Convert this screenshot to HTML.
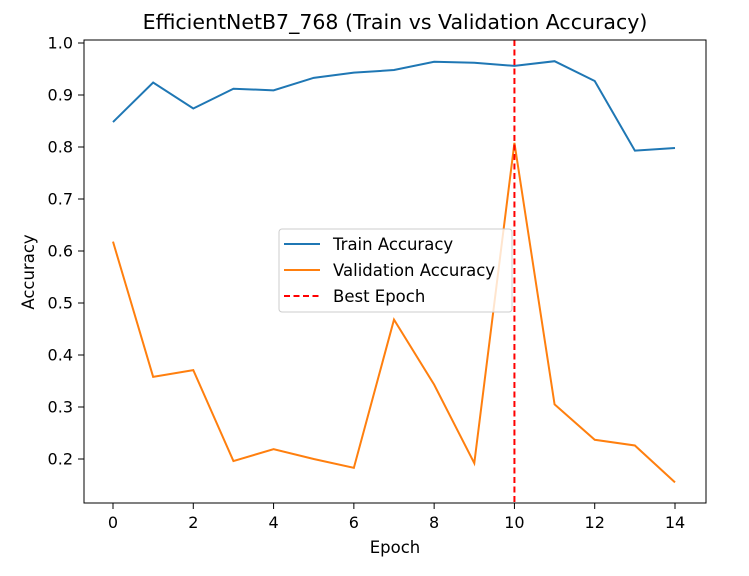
<!DOCTYPE html>
<html><head><meta charset="utf-8"><style>
html,body{margin:0;padding:0;background:#fff;}
svg{display:block;font-family:"DejaVu Sans","Liberation Sans",sans-serif;}
</style></head><body>
<svg id="chart" width="749" height="576" viewBox="0 0 749 576" xmlns="http://www.w3.org/2000/svg">
<rect width="749" height="576" fill="#fff"/>
<text x="395" y="29" font-size="20.5" text-anchor="middle" fill="#000">EfficientNetB7_768 (Train vs Validation Accuracy)</text>
<g id="series"></g>
<rect x="84" y="40" width="622" height="463" fill="none" stroke="#000" stroke-width="1"/>
<g id="xaxis"></g><g id="yaxis"></g>
<text x="395" y="553" font-size="16.5" text-anchor="middle">Epoch</text>
<text x="0" y="0" font-size="16.5" text-anchor="middle" transform="translate(34,272) rotate(-90)">Accuracy</text>
<g>
<rect x="279" y="229" width="233" height="83" rx="3" fill="#fff" fill-opacity="0.8" stroke="#ccc"/>
<line x1="284" y1="244" x2="320" y2="244" stroke="#1f77b4" stroke-width="2"/>
<text x="333" y="250" font-size="16.5">Train Accuracy</text>
<line x1="284" y1="270" x2="320" y2="270" stroke="#ff7f0e" stroke-width="2"/>
<text x="333" y="276" font-size="16.5">Validation Accuracy</text>
<line x1="284" y1="296" x2="320" y2="296" stroke="#ff0000" stroke-width="2" stroke-dasharray="6,3.5"/>
<text x="333" y="302" font-size="16.5">Best Epoch</text>
</g>
</svg>
<script>
const epochs=[0,1,2,3,4,5,6,7,8,9,10,11,12,13,14];
const trainAcc=[0.848,0.924,0.874,0.912,0.909,0.933,0.943,0.948,0.964,0.962,0.956,0.965,0.927,0.793,0.798];
const valAcc=[0.618,0.358,0.371,0.196,0.219,0.200,0.183,0.468,0.343,0.192,0.808,0.305,0.237,0.226,0.155];
const bestEpoch=10;
const xTicks=[0,2,4,6,8,10,12,14];
const yTicks=[0.2,0.3,0.4,0.5,0.6,0.7,0.8,0.9,1.0];
const NS="http://www.w3.org/2000/svg";
const X=e=>113+e*(675-113)/14;
const Y=v=>459-(v-0.2)*520;
const xa=document.getElementById('xaxis'),ya=document.getElementById('yaxis'),sr=document.getElementById('series');
function mk(t,a,p){const el=document.createElementNS(NS,t);for(const k in a)el.setAttribute(k,a[k]);p.appendChild(el);return el;}
xTicks.forEach(t=>{
 const l=mk('line',{x1:X(t),x2:X(t),y1:503,y2:509,stroke:'#000'},xa);
 
 
 const tx=mk('text',{x:X(t),y:528,'font-size':16,'text-anchor':'middle'},xa);tx.textContent=t;
 
 
});
yTicks.forEach(t=>{
 const l=mk('line',{x1:78,x2:84,y1:Y(t),y2:Y(t),stroke:'#000'},ya);
 
 
 const tx=mk('text',{x:73,y:Y(t)+5.5,'font-size':16,'text-anchor':'end'},ya);tx.textContent=t.toFixed(1);
 
 
});
const pts=a=>a.map((v,i)=>X(epochs[i])+','+Y(v)).join(' ');
const tl=mk('polyline',{points:pts(trainAcc),fill:'none',stroke:'#1f77b4','stroke-width':2},sr);


const vl=mk('polyline',{points:pts(valAcc),fill:'none',stroke:'#ff7f0e','stroke-width':2},sr);


const bl=mk('line',{x1:X(bestEpoch),x2:X(bestEpoch),y1:40,y2:503,stroke:'#ff0000','stroke-width':2,'stroke-dasharray':'6,3.5'},sr);


</script>
</body></html>
